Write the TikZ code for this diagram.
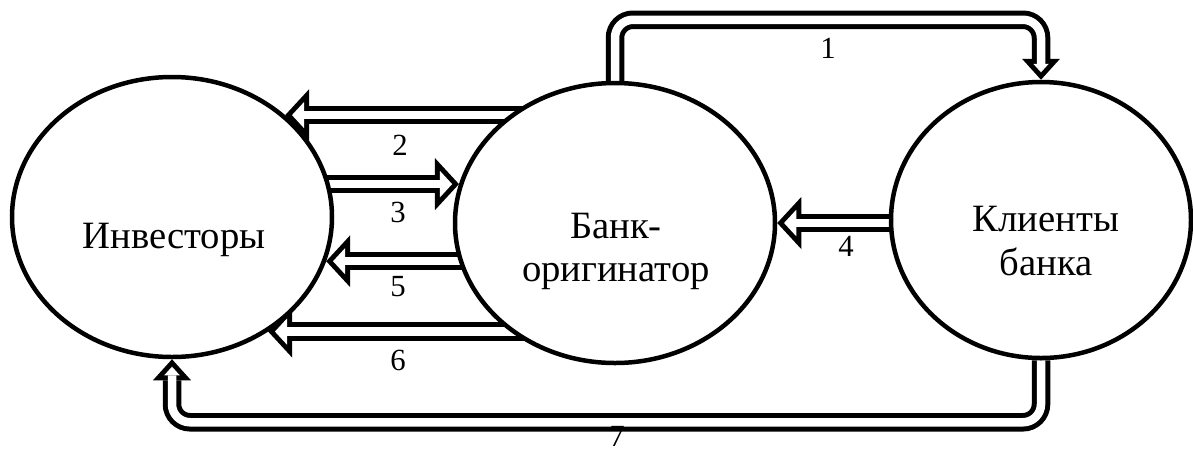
\documentclass[tikz,border=0pt]{standalone}
\usepackage{fontspec}
\setmainfont{Liberation Serif}
\usetikzlibrary{arrows.meta, shapes.geometric, backgrounds}

\tikzset{
  blob/.style={ellipse, draw, line width=0.09cm, fill=white},
  pipe/.style={preaction={draw=black, line width=0.37cm, shorten >=0pt,
      -{Triangle[length=0.48cm, width=1.04cm, line width=0pt]}},
    draw=white, line width=0.17cm, shorten >=0.136cm,
    -{Triangle[length=0.244cm, width=0.529cm, line width=0pt]}},
  bentpipe/.style={rounded corners=0.36cm, preaction={draw=black, line width=0.37cm, shorten >=0pt,
      -{Triangle[length=0.42cm, width=0.76cm, line width=0pt]}},
    draw=white, line width=0.17cm, shorten >=0.149cm,
    -{Triangle[length=0.171cm, width=0.31cm, line width=0pt]}},
  num/.style={font=\fontsize{17.5}{20}\selectfont},
  txt/.style={font=\fontsize{22}{24.5}\selectfont, align=center}
}

\begin{document}
\begin{tikzpicture}
            \useasboundingbox (0, 0) rectangle (23.86, -9.08);

            \node (Inv) [blob, minimum width=6.4cm, minimum height=5.6cm] at (3.44, -4.34) {};
            \node (Bank) [blob, minimum width=6.4cm, minimum height=5.6cm] at (12.3, -4.46) {};
            \node (Cl) [blob, minimum width=6.0cm, minimum height=5.52cm] at (20.82, -4.4) {};

            \node (InvT) [txt] at (3.48, -4.8) {Инвесторы};
            \node (BankT) [txt] at (12.32, -5.02) {Банк-\\оригинатор};
            \node (ClT) [txt] at (20.92, -4.82) {Клиенты\\банка};

            \begin{scope}[on background layer]
                \draw [bentpipe] (Bank.north) -- ++(0, 1.22) -| (Cl.north);
                \draw [pipe] (Bank.center |- Inv.42) -- (Inv.42);
                \draw [pipe] (Inv.center |- Bank.166) -- (Bank.166);
                \draw [pipe] (Cl.center |- Bank.0) -- (Bank.0);
                \draw [pipe] (Bank.center |- Inv.-16) -- (Inv.-16);
                \draw [pipe] (Bank.center |- Inv.-50) -- (Inv.-50);
                \draw [bentpipe] (Cl.south) -- ++(0, -1.24) -| (Inv.south);
            \end{scope}

            \node (L1) [num] at (16.56, -0.96) {1};
            \node (L2) [num] at (8.0, -2.9) {2};
            \node (L3) [num] at (7.96, -4.24) {3};
            \node (L4) [num] at (16.92, -4.92) {4};
            \node (L5) [num] at (7.96, -5.74) {5};
            \node (L6) [num] at (7.96, -7.2) {6};
            \node (L7) [num] at (12.34, -8.72) {7};
        \end{tikzpicture}
\end{document}
